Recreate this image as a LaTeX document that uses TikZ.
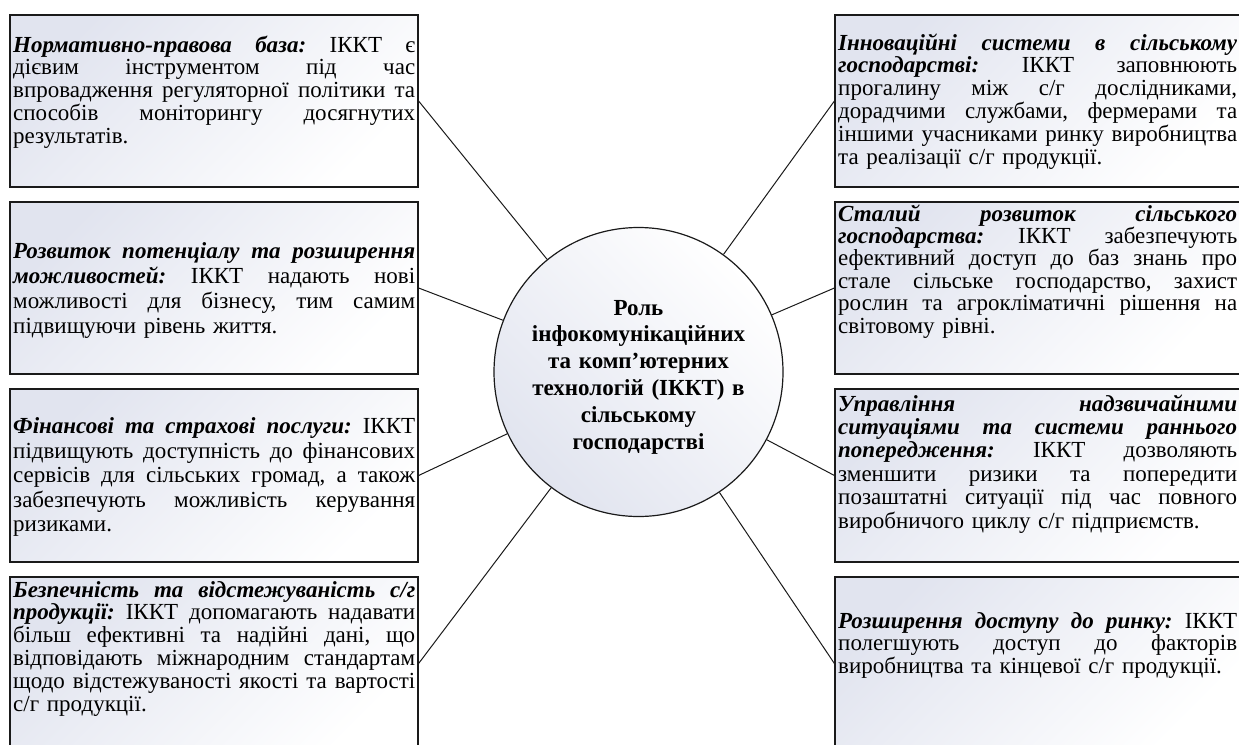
\documentclass[tikz,border=0pt]{standalone}
\usepackage{fontspec}
\setmainfont{Liberation Serif}
\frenchspacing
\newcommand\hd[1]{\textbf{\textit{#1}}}
% one fully justified line of a panel text (width \pw is set by the text style)
\newcommand\pw{400pt}
\newcommand\jl[1]{\leavevmode\hbox to\pw{\spaceskip=.25em plus 1fil\relax#1}}
\definecolor{tint}{HTML}{E1E4EF}
\definecolor{edge}{HTML}{1A1A1A}
\newcommand\bodyfont[1]{\fontsize{23}{#1}\selectfont\lineskiplimit=-50pt\relax}
\newcommand\hubfont{\fontsize{23}{26.8}\selectfont\bfseries\lineskiplimit=-50pt\relax}

\begin{document}
\begin{tikzpicture}[x=1pt,y=-1pt,
  panel/.style={rectangle, draw=edge, line width=1.2pt, top color=tint, bottom color=white,
    shading angle=45, inner sep=0pt},
  lpanel/.style={panel, minimum width=408pt},
  rpanel/.style={panel, minimum width=406pt},
  hub/.style={circle, draw=edge, line width=1.2pt, top color=tint, bottom color=white,
    shading angle=135, minimum size=289pt, inner sep=0pt},
  hubtext/.style={inner sep=0pt, text width=232pt, align=center, font=\hubfont},
  spoke/.style={draw=edge, line width=1pt},
  lbody/.style={anchor=base west, inner sep=0pt, align=left, text width=402pt,
    font={\bodyfont{#1}}, execute at begin node={\renewcommand\pw{402pt}}},
  rbody/.style={anchor=base west, inner sep=0pt, align=left, text width=399pt,
    font={\bodyfont{#1}}, execute at begin node={\renewcommand\pw{399pt}}}
]
\useasboundingbox (0,0) rectangle (1239,744);

% central circle
\node[hub] (hub) at (638.5,372) {};
\node[hubtext] (hubt) at (638.5,377) {Роль\\ інфокомунікаційних\\ та комп’ютерних\\ технологій (ІККТ) в\\ сільському\\ господарстві};

% left column panels
\node[lpanel, minimum height=172pt] (L1) at (214,101) {};
\node[lpanel, minimum height=172pt] (L2) at (214,288) {};
\node[lpanel, minimum height=173pt] (L3) at (214,475.5) {};
\node[lpanel, minimum height=173pt] (L4) at (214,663.5) {};

% right column panels
\node[rpanel, minimum height=172pt] (R1) at (1038,101) {};
\node[rpanel, minimum height=172pt] (R2) at (1038,288) {};
\node[rpanel, minimum height=173pt] (R3) at (1038,475.5) {};
\node[rpanel, minimum height=173pt] (R4) at (1038,663.5) {};

% spokes
\foreach \p in {L1,L2,L3,L4} \draw[spoke] (hub) -- (\p.east);
\foreach \p in {R1,R2,R3,R4} \draw[spoke] (hub) -- (\p.west);

% panel texts
\node[lbody=22.8] (tL1) at (13,52) {%
\jl{\hd{Нормативно-правова база:}\ ІККТ є}\\
\jl{дієвим інструментом під час}\\
\jl{впровадження регуляторної політики та}\\
\jl{способів моніторингу досягнутих}\\
результатів.};

\node[lbody=25] (tL2) at (13,258.5) {%
\jl{\hd{Розвиток потенціалу та розширення}}\\
\jl{\hd{можливостей:}\ ІККТ надають нові}\\
\jl{можливості для бізнесу, тим самим}\\
підвищуючи рівень життя.};

\node[lbody=24.5] (tL3) at (13,433.5) {%
\jl{\hd{Фінансові та страхові послуги:}\ ІККТ}\\
\jl{підвищують доступність до фінансових}\\
\jl{сервісів для сільських громад, а також}\\
\jl{забезпечують можливість керування}\\
ризиками.};

\node[lbody=22.8] (tL4) at (13,597) {%
\jl{\hd{Безпечність та відстежуваність с/г}}\\
\jl{\hd{продукції:}\ ІККТ допомагають надавати}\\
\jl{більш ефективні та надійні дані, що}\\
\jl{відповідають міжнародним стандартам}\\
\jl{щодо відстежуваності якості та вартості}\\
с/г продукції.};

\node[rbody=22.8] (tR1) at (838,50) {%
\jl{\hd{Інноваційні системи в сільському}}\\
\jl{\hd{господарстві:}\ ІККТ заповнюють}\\
\jl{прогалину між с/г дослідниками,}\\
\jl{дорадчими службами, фермерами та}\\
\jl{іншими учасниками ринку виробництва}\\
та реалізації с/г продукції.};

\node[rbody=22.4] (tR2) at (838,221) {%
\jl{\hd{Сталий розвиток сільського}}\\
\jl{\hd{господарства:}\ ІККТ забезпечують}\\
\jl{ефективний доступ до баз знань про}\\
\jl{стале сільське господарство, захист}\\
\jl{рослин та агрокліматичні рішення на}\\
світовому рівні.};

\node[rbody=23.4] (tR3) at (838,411) {%
\jl{\hd{Управління надзвичайними}}\\
\jl{\hd{ситуаціями та системи раннього}}\\
\jl{\hd{попередження:}\ ІККТ дозволяють}\\
\jl{зменшити ризики та попередити}\\
\jl{позаштатні ситуації під час повного}\\
виробничого циклу с/г підприємств.};

\node[rbody=22.8] (tR4) at (838,628) {%
\jl{\hd{Розширення доступу до ринку:}\ ІККТ}\\
\jl{полегшують доступ до факторів}\\
виробництва та кінцевої с/г продукції.};
\end{tikzpicture}
\end{document}
